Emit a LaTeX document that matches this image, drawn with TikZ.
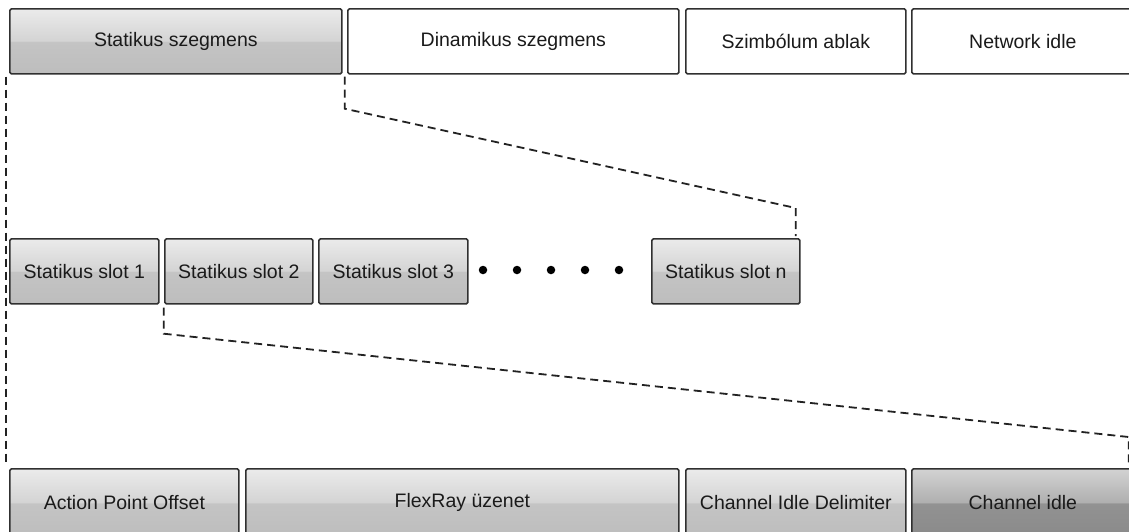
\documentclass[tikz,border=0pt]{standalone}
\usepackage{fontspec}
\setmainfont{Liberation Sans}
\usetikzlibrary{calc}
\definecolor{gA}{HTML}{BDBDBD}
\definecolor{gB}{HTML}{C4C4C4}
\definecolor{gC}{HTML}{D4D4D4}
\definecolor{gD}{HTML}{EBEBEB}
\definecolor{dA}{HTML}{8A8A8A}
\definecolor{dB}{HTML}{929292}
\definecolor{dC}{HTML}{B0B0B0}
\definecolor{dD}{HTML}{D2D2D2}
\definecolor{boxline}{HTML}{303030}
\definecolor{txt}{HTML}{1A1A1A}
\definecolor{dashc}{HTML}{222222}
\pgfdeclareverticalshading{glossy}{100bp}{color(0bp)=(gA); color(25bp)=(gA); color(49.5bp)=(gB); color(50.5bp)=(gC); color(75bp)=(gD); color(100bp)=(gD)}
\pgfdeclareverticalshading{glossydark}{100bp}{color(0bp)=(dA); color(25bp)=(dA); color(49.5bp)=(dB); color(50.5bp)=(dC); color(75bp)=(dD); color(100bp)=(dD)}
\begin{document}
\begin{tikzpicture}[x=1pt,y=-1pt, font=\fontsize{19.5}{23}\selectfont,
  box/.style={draw=boxline, line width=1.7pt, rounded corners=1.5pt, anchor=north west, inner sep=0pt, text=txt},
  grey/.style={box, shading=glossy},
  dark/.style={box, shading=glossydark},
  white/.style={box, fill=white},
  conn/.style={draw=dashc, line width=1.8pt, dash pattern=on 8pt off 5pt},
  dot/.style={circle, fill=black, inner sep=0pt, minimum size=8.5pt}]
\useasboundingbox (0,0) rectangle (1129,531);
\clip (0,0) rectangle (1129,531);
% top row
\node[grey,  minimum width=332pt, minimum height=65pt] (seg) at (9,8) {Statikus szegmens};
\node[white, minimum width=331pt, minimum height=65pt] (dyn) at (347,8) {Dinamikus szegmens};
\node[white, minimum width=220pt, minimum height=65pt] (sym) at (685,8) {Szimbólum ablak};
\node[white, minimum width=222pt, minimum height=65pt] (net) at (911,8) {Network idle};
% middle row
\node[grey, minimum width=149pt, minimum height=65pt] (s1) at (9,238) {Statikus slot 1};
\node[grey, minimum width=148pt, minimum height=65pt] (s2) at (164,238) {Statikus slot 2};
\node[grey, minimum width=149pt, minimum height=65pt] (s3) at (318,238) {Statikus slot 3};
\node[grey, minimum width=148pt, minimum height=65pt] (sn) at (651,238) {Statikus slot n};
\foreach \i/\x in {1/483,2/517,3/551,4/585,5/619}
  \node[dot] (d\i) at (\x,270) {};
% bottom row
\node[grey, minimum width=229pt, minimum height=68pt] (apo) at (9,468) {Action Point Offset};
\node[grey, minimum width=433pt, minimum height=68pt] (flex) at (245,468) {FlexRay üzenet};
\node[grey, minimum width=220pt, minimum height=68pt] (cid) at (685,468) {Channel Idle Delimiter};
\node[dark, minimum width=222pt, minimum height=68pt] (cidle) at (911,468) {Channel idle};
% connectors
\draw[conn] ($(seg.south west)+(-3,2)$) -- ($(apo.north west)+(-3,-2)$);
\draw[conn] ($(seg.south east)+(2,2)$) -- ($(seg.south east)+(2,34)$)
  -- ($(sn.north east)+(-5,-30)$) -- ($(sn.north east)+(-5,-2)$);
\draw[conn] ($(s1.south east)+(4,3)$) -- ($(s1.south east)+(4,29)$)
  -- ($(cidle.north east)+(-6,-31)$) -- ($(cidle.north east)+(-6,-2)$);
\end{tikzpicture}
\end{document}
